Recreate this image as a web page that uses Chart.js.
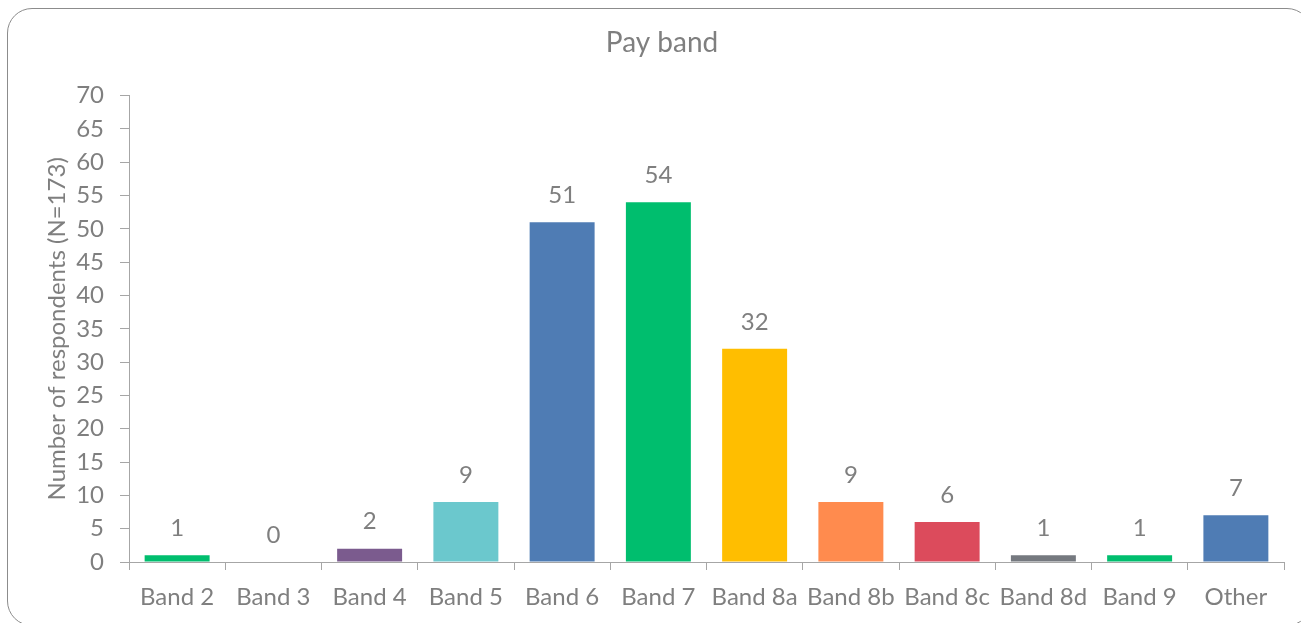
<!DOCTYPE html>
<html>
<head>
<meta charset="utf-8">
<script src="https://cdn.jsdelivr.net/npm/chart.js@4/dist/chart.umd.min.js"></script>
<style>
  html, body { margin: 0; padding: 0; background: #ffffff; overflow: hidden; }
  #wrap { position: relative; width: 1301px; height: 623px; }
  #frame {
    position: absolute; left: 7px; top: 8px; width: 1305px; height: 618px;
    border: 1px solid #8c8c8c; border-radius: 25px; box-sizing: border-box;
  }
  #chart { position: absolute; left: 0; top: 0; }
</style>
</head>
<body>
<div id="wrap">
  <div id="frame"></div>
  <canvas id="chart" width="1301" height="623"></canvas>
</div>
<script>
// Survey responses by pay band
const categories = ['Band 2', 'Band 3', 'Band 4', 'Band 5', 'Band 6', 'Band 7', 'Band 8a', 'Band 8b', 'Band 8c', 'Band 8d', 'Band 9', 'Other'];
const respondents = [1, 0, 2, 9, 51, 54, 32, 9, 6, 1, 1, 7];
const barColors = ['#00BE6E', '#00BE6E', '#7B5B8E', '#6BC8CD', '#4F7CB4', '#00BE6E', '#FFBE00', '#FF8B4E', '#DC4B5C', '#75797F', '#00BE6E', '#4F7CB4'];
const yTicks = [0, 5, 10, 15, 20, 25, 30, 35, 40, 45, 50, 55, 60, 65, 70];

const textGrey = '#7F7F7F';
const axisGrey = '#A6A6A6';
const fontFamily = 'Lato, "Open Sans", sans-serif';

// Writes each bar's count above it
const valueLabels = {
  id: 'valueLabels',
  afterDatasetsDraw(chart) {
    const ctx = chart.ctx;
    const meta = chart.getDatasetMeta(0);
    ctx.save();
    ctx.fillStyle = textGrey;
    ctx.font = '24px ' + fontFamily;
    ctx.textAlign = 'center';
    ctx.textBaseline = 'middle';
    meta.data.forEach((bar, i) => {
      ctx.fillText(String(respondents[i]), bar.x, bar.y - 27);
    });
    ctx.restore();
  }
};

new Chart(document.getElementById('chart'), {
  type: 'bar',
  data: {
    labels: categories,
    datasets: [{
      data: respondents,
      backgroundColor: barColors,
      borderWidth: 0,
      barPercentage: 0.675,
      categoryPercentage: 1.0
    }]
  },
  options: {
    responsive: false,
    animation: false,
    layout: { padding: { top: 10, left: 40, right: 17, bottom: 0 } },
    plugins: {
      legend: { display: false },
      tooltip: { enabled: false },
      title: {
        display: true,
        text: 'Pay band',
        color: textGrey,
        font: { family: fontFamily, size: 28, weight: 'normal' },
        padding: { top: 16, bottom: 36 }
      }
    },
    scales: {
      x: {
        offset: true,
        grid: { drawOnChartArea: false, drawTicks: true, tickLength: 8, color: axisGrey, offset: true },
        border: { color: axisGrey, width: 1 },
        ticks: { color: textGrey, font: { family: fontFamily, size: 24 }, padding: 13, maxRotation: 0, autoSkip: false },
        afterFit(scale) { scale.height = 61; }
      },
      y: {
        min: 0,
        max: 70,
        afterBuildTicks(scale) { scale.ticks = yTicks.map(v => ({ value: v })); },
        grid: { drawOnChartArea: false, drawTicks: true, tickLength: 9, color: axisGrey },
        border: { color: axisGrey, width: 1 },
        ticks: { color: textGrey, font: { family: fontFamily, size: 24 }, padding: 16 },
        title: {
          display: true,
          text: 'Number of respondents (N=173)',
          color: textGrey,
          font: { family: fontFamily, size: 24 },
          padding: { top: 3, bottom: 0 }
        },
        afterFit(scale) { scale.width = 89; }
      }
    }
  },
  plugins: [valueLabels]
});
</script>
</body>
</html>
